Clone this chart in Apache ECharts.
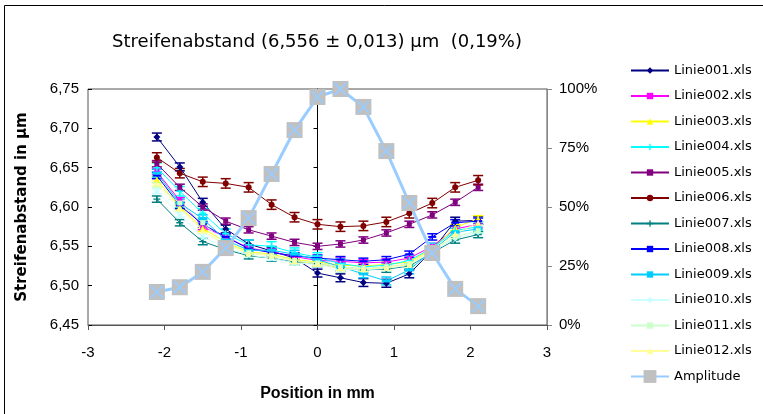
<!DOCTYPE html>
<head>
    <meta charset="utf-8">
    <title>Streifenabstand</title>
</head>
<body style="margin:0">
   <div id="main" style="width:763px;height:414px"></div>
   <script src="https://cdn.jsdelivr.net/npm/echarts@6/dist/echarts.min.js"></script>
   <script type="text/javascript">
    // Messpositionen in mm
    var xPos = [-2.1, -1.8, -1.5, -1.2, -0.9, -0.6, -0.3, 0, 0.3, 0.6, 0.9, 1.2, 1.5, 1.8, 2.1];

    // Streifenabstand je Datei (µm)
    var linie001 = [6.689, 6.651, 6.606, 6.572, 6.553, 6.544, 6.535, 6.516, 6.510, 6.504, 6.503, 6.515, 6.545, 6.582, 6.583];
    var linie002 = [6.645, 6.608, 6.575, 6.562, 6.548, 6.543, 6.537, 6.532, 6.531, 6.529, 6.530, 6.535, 6.550, 6.572, 6.578];
    var linie003 = [6.635, 6.600, 6.573, 6.555, 6.543, 6.540, 6.533, 6.530, 6.526, 6.525, 6.527, 6.530, 6.547, 6.574, 6.585];
    var linie004 = [6.650, 6.620, 6.592, 6.566, 6.552, 6.550, 6.542, 6.536, 6.528, 6.524, 6.526, 6.532, 6.548, 6.570, 6.575];
    var linie005 = [6.655, 6.625, 6.600, 6.582, 6.571, 6.563, 6.555, 6.550, 6.553, 6.558, 6.567, 6.578, 6.590, 6.606, 6.625];
    var linie006 = [6.663, 6.643, 6.632, 6.630, 6.625, 6.603, 6.587, 6.578, 6.575, 6.576, 6.581, 6.592, 6.605, 6.625, 6.634];
    var linie007 = [6.610, 6.580, 6.556, 6.546, 6.538, 6.535, 6.530, 6.528, 6.522, 6.520, 6.521, 6.525, 6.542, 6.558, 6.565];
    var linie008 = [6.640, 6.602, 6.578, 6.562, 6.547, 6.542, 6.538, 6.535, 6.533, 6.531, 6.533, 6.540, 6.562, 6.580, 6.582];
    var linie009 = [6.643, 6.605, 6.585, 6.558, 6.545, 6.545, 6.540, 6.533, 6.524, 6.515, 6.506, 6.520, 6.545, 6.568, 6.572];
    var linie010 = [6.620, 6.590, 6.562, 6.548, 6.539, 6.535, 6.529, 6.527, 6.521, 6.520, 6.522, 6.526, 6.543, 6.560, 6.568];
    var linie011 = [6.628, 6.605, 6.580, 6.553, 6.542, 6.539, 6.532, 6.529, 6.524, 6.522, 6.524, 6.528, 6.545, 6.562, 6.570];
    var linie012 = [6.630, 6.598, 6.570, 6.552, 6.541, 6.538, 6.531, 6.528, 6.522, 6.521, 6.523, 6.527, 6.544, 6.566, 6.580];
    // Fehler (±) je Datei
    var fehler = [0.005, 0.004, 0.004, 0.006, 0.004, 0.006, 0.004, 0.004, 0.005, 0.003, 0.003, 0.003];
    // Amplitude in %
    var amplitude = [14, 16, 22.5, 32.6, 45.3, 64, 82.6, 96.6, 100, 92.4, 73.7, 51.7, 30.5, 15.3, 8];

    var namen = ['Linie001.xls', 'Linie002.xls', 'Linie003.xls', 'Linie004.xls', 'Linie005.xls', 'Linie006.xls',
                 'Linie007.xls', 'Linie008.xls', 'Linie009.xls', 'Linie010.xls', 'Linie011.xls', 'Linie012.xls'];
    var werte = [linie001, linie002, linie003, linie004, linie005, linie006,
                 linie007, linie008, linie009, linie010, linie011, linie012];
    var farben = ['#000080', '#ff00ff', '#ffff00', '#00ffff', '#800080', '#800000',
                  '#008080', '#0000ff', '#00ccff', '#ccffff', '#ccffcc', '#ffff99'];
    var plus = 'path://M4,0H6V4H10V6H6V10H4V6H0V4H4Z';
    var symbole = ['diamond', 'rect', 'triangle', plus, 'rect', 'circle',
                   plus, 'rect', 'rect', 'diamond', 'rect', 'triangle'];
    var groessen = [7, 5, 6, 7, 5, 6, 7, [8, 2], [9, 3], 6, 5, 6];

    var myChart = echarts.init(document.getElementById("main"));

    function fehlerBalken(params, api) {
        var x = api.value(0), y = api.value(1), e = api.value(2);
        var hi = api.coord([x, y + e]);
        var lo = api.coord([x, y - e]);
        var c = api.visual('color');
        var st = {stroke: c, lineWidth: 1.5};
        return {
            type: 'group',
            children: [
                {type: 'line', shape: {x1: hi[0], y1: hi[1], x2: lo[0], y2: lo[1]}, style: st},
                {type: 'line', shape: {x1: hi[0] - 5, y1: hi[1], x2: hi[0] + 5, y2: hi[1]}, style: st},
                {type: 'line', shape: {x1: lo[0] - 5, y1: lo[1], x2: lo[0] + 5, y2: lo[1]}, style: st}
            ]
        };
    }

    // blaues Kreuz im grauen Amplituden-Marker
    function kreuz(params, api) {
        var p = api.coord([api.value(0), api.value(1)]);
        var d = 6;
        var st = {stroke: '#99ccff', lineWidth: 1.8};
        return {
            type: 'group',
            children: [
                {type: 'line', shape: {x1: p[0] - d, y1: p[1] - d, x2: p[0] + d, y2: p[1] + d}, style: st},
                {type: 'line', shape: {x1: p[0] - d, y1: p[1] + d, x2: p[0] + d, y2: p[1] - d}, style: st}
            ]
        };
    }

    var series = [];
    for (var i = 0; i < namen.length; i++) {
        var pts = [], err = [];
        for (var j = 0; j < xPos.length; j++) {
            pts.push([xPos[j], werte[i][j]]);
            err.push([xPos[j], werte[i][j], fehler[i]]);
        }
        series.push({
            name: namen[i],
            type: 'line',
            yAxisIndex: 0,
            data: pts,
            symbol: symbole[i],
            symbolSize: groessen[i],
            lineStyle: {color: farben[i], width: 1},
            itemStyle: {color: farben[i]},
            animation: false,
            z: 3
        });
        series.push({
            name: namen[i] + ' Fehler',
            type: 'custom',
            yAxisIndex: 0,
            renderItem: fehlerBalken,
            encode: {x: 0, y: 1},
            data: err,
            itemStyle: {color: farben[i]},
            animation: false,
            z: 2
        });
    }
    var ampData = [], ampKreuz = [];
    for (var k = 0; k < xPos.length; k++) {
        ampData.push([xPos[k], amplitude[k]]);
        ampKreuz.push([xPos[k], amplitude[k]]);
    }
    series.push({
        name: 'Amplitude',
        type: 'line',
        yAxisIndex: 1,
        data: ampData,
        symbol: 'rect',
        symbolSize: 16,
        lineStyle: {color: '#99ccff', width: 3},
        itemStyle: {color: '#c0c0c0'},
        animation: false,
        z: 4
    });
    series.push({
        name: 'Amplitude X',
        type: 'custom',
        yAxisIndex: 1,
        renderItem: kreuz,
        encode: {x: 0, y: 1},
        data: ampKreuz,
        animation: false,
        silent: true,
        z: 6
    });

    var txt = {color: '#000', fontFamily: 'Liberation Sans', fontSize: 15};

    option = {
        backgroundColor: '#fff',
        title: {
            text: 'Streifenabstand (6,556 ± 0,013) µm  (0,19%)',
            left: 312,
            textAlign: 'center',
            top: 28,
            textStyle: {color: '#000', fontFamily: 'DejaVu Sans', fontSize: 18, fontWeight: 'normal'}
        },
        legend: [{
            orient: 'vertical',
            left: 625,
            top: 59,
            itemWidth: 38,
            itemHeight: 8,
            itemGap: 12.5,
            data: namen,
            textStyle: {color: '#000', fontFamily: 'DejaVu Sans', fontSize: 13}
        }, {
            orient: 'vertical',
            left: 625,
            top: 365,
            itemWidth: 38,
            itemHeight: 16,
            data: ['Amplitude'],
            textStyle: {color: '#000', fontFamily: 'DejaVu Sans', fontSize: 13}
        }],
        graphic: [{
            type: 'rect',
            shape: {x: 4.5, y: 5.5, width: 800, height: 420},
            style: {fill: 'none', stroke: '#000', lineWidth: 1},
            silent: true
        }],
        grid: {
            left: 88, right: 216, top: 89, bottom: 89,
            show: true, borderColor: '#555', borderWidth: 1
        },
        xAxis: [{
            type: 'value',
            min: -3, max: 3, interval: 1,
            name: 'Position in mm',
            nameLocation: 'middle',
            nameGap: 61,
            nameTextStyle: {color: '#000', fontFamily: 'Liberation Sans', fontSize: 16, fontWeight: 'bold'},
            axisLine: {onZero: false, lineStyle: {color: '#555'}},
            axisTick: {length: 5, lineStyle: {color: '#555'}},
            axisLabel: Object.assign({margin: 20}, txt),
            splitLine: {show: false}
        }],
        yAxis: [{
            type: 'value',
            position: 'left',
            min: 6.45, max: 6.75, interval: 0.05,
            name: 'Streifenabstand in µm',
            nameLocation: 'middle',
            nameGap: 58,
            nameTextStyle: {color: '#000', fontFamily: 'DejaVu Sans', fontSize: 15, fontWeight: 'bold'},
            axisLine: {show: false, onZero: false},
            axisTick: {show: false},
            axisLabel: Object.assign({margin: 9, formatter: function (v) { return v.toFixed(2).replace('.', ','); }}, txt),
            splitLine: {show: false}
        }, {
            type: 'value',
            position: 'right',
            min: 0, max: 100, interval: 25,
            axisLine: {show: true, onZero: false, lineStyle: {color: '#888'}},
            axisTick: {show: true, length: 5, lineStyle: {color: '#888'}},
            axisLabel: Object.assign({margin: 12, formatter: '{value}%'}, txt),
            splitLine: {show: false}
        }, {
            type: 'value',
            position: 'left',
            min: 6.45, max: 6.75, interval: 0.05,
            axisLine: {show: true, onZero: true, lineStyle: {color: '#000'}},
            axisTick: {show: true, length: 4, lineStyle: {color: '#000'}},
            axisLabel: {show: false},
            splitLine: {show: false}
        }, {
            type: 'value',
            position: 'left',
            min: 6.45, max: 6.75, interval: 0.05,
            axisLine: {show: false, onZero: true},
            axisTick: {show: true, inside: true, length: 4, lineStyle: {color: '#000'}},
            axisLabel: {show: false},
            splitLine: {show: false}
        }],
        series: series
    };
    myChart.setOption(option);
</script>
</body>
